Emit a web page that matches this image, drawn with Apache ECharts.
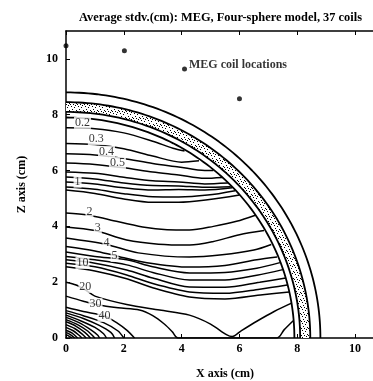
<!DOCTYPE html>
<html>
<head>
<meta charset="utf-8">
<script src="https://cdn.jsdelivr.net/npm/echarts@6/dist/echarts.min.js"></script>
<style>
  html, body { margin: 0; padding: 0; background: #fff; }
  #main { width: 373px; height: 381px; }
</style>
</head>
<body>
<div id="main"></div>
<script>
// 球壳半径 (cm): 脑, 脑脊液, 颅骨外, 头皮
var shellRadii = [7.9, 8.1, 8.45, 8.8];
// 颅骨层 (点状填充)
var skullBand = [8.1, 8.45];

// MEG 线圈位置
var coilX = [0, 2.02, 4.1, 6.0];
var coilZ = [10.47, 10.29, 9.64, 8.57];

// 等值线 (x, z)
var c02 = [[0,7.53],[1.0,7.5],[2.0,7.35],[3.0,7.05],[3.7,6.8],[4.1,6.7]];
var c03 = [[0,6.97],[1.0,6.93],[2.0,6.78],[3.0,6.52],[4.0,6.3],[4.6,6.35]];
var c04 = [[0,6.6],[1,6.56],[2,6.43],[3,6.25],[3.9,6.13],[4.8,6.0],[5.1,6.0]];
var c05 = [[0,6.27],[1,6.22],[2,6.1],[3,5.95],[3.9,5.84],[4.8,5.72],[5.4,5.75]];
var c06 = [[0,5.95],[1,5.9],[2,5.76],[3,5.63],[3.9,5.59],[4.8,5.52],[5.6,5.55]];
var c07 = [[0,5.77],[1,5.7],[2,5.55],[3,5.46],[3.9,5.45],[4.8,5.4],[5.7,5.42]];
var c08 = [[0,5.59],[1,5.52],[2,5.38],[3,5.3],[3.9,5.32],[4.8,5.3],[5.75,5.38]];
var c09 = [[0,5.41],[1,5.33],[2,5.17],[3,5.06],[3.9,5.05],[4.9,5.12],[5.85,5.28]];
var c1 = [[0,5.3],[1,5.18],[2,4.98],[3,4.86],[3.9,4.86],[4.9,4.95],[6.0,5.12]];
var c2 = [[0,4.48],[0.75,4.41],[1.5,4.24],[2.65,3.98],[3.5,3.88],[4.27,3.87],[5.1,4.0],[5.9,4.18],[6.55,4.4]];
var c3 = [[0,3.98],[1.0,3.85],[2.1,3.51],[3.2,3.36],[4.28,3.33],[5.07,3.45],[6.0,3.7],[6.85,3.85]];
var c4 = [[0,3.58],[1.4,3.35],[2.5,3.05],[4.27,2.9],[5.4,2.98],[6.5,3.15],[7.1,3.35]];
var c5 = [[0,3.28],[1.0,3.12],[1.7,2.95],[2.8,2.7],[4.27,2.54],[5.5,2.6],[6.6,2.8],[7.3,2.9]];
var c6 = [[0,3.08],[1,2.92],[2.1,2.8],[3,2.55],[4.27,2.33],[5.5,2.35],[6.6,2.5],[7.4,2.7]];
var c7 = [[0,2.92],[1,2.8],[2.1,2.62],[3,2.35],[4.27,2.08],[5.5,2.08],[6.6,2.25],[7.5,2.45]];
var c8 = [[0,2.8],[1,2.68],[2.1,2.44],[3,2.15],[4.27,1.83],[5.5,1.82],[6.7,2.0],[7.6,2.15]];
var c9 = [[0,2.68],[1,2.55],[2.1,2.26],[3,1.95],[4.27,1.65],[5.5,1.6],[6.7,1.75],[7.65,1.9]];
var c10 = [[0,2.55],[1,2.4],[2.1,2.12],[3,1.8],[4.27,1.47],[5.5,1.4],[6.8,1.55],[7.72,1.65]];
var c20 = [[0,2.0],[0.35,1.9],[0.68,1.72],[1.0,1.5],[2.1,1.2],[3.24,1.0],[4.27,0.82],[5.0,0.5],[5.55,0.12],[5.75,0.05],[6.05,0.25],[6.6,0.6],[7.2,0.95],[7.8,1.25]];
var c30 = [[0,1.5],[0.6,1.32],[1.05,1.2],[1.8,1.08],[2.54,1.0],[3.0,0.8],[3.4,0.5],[3.68,0.22],[3.87,0],[7.3,0],[7.55,0.3],[7.86,0.62]];
var c40 = [[0,1.1],[0.6,0.95],[1.33,0.79],[1.75,0.55],[2.1,0.28],[2.37,0]];
var c50 = [[0,0.98],[0.6,0.8],[1.3,0.55],[1.8,0.25],[2.0,0]];
var c60 = [[0,0.9],[0.6,0.7],[1.15,0.45],[1.55,0.2],[1.68,0]];
var c70 = [[0,0.82],[0.5,0.62],[1.0,0.38],[1.3,0.15],[1.4,0]];
var c80 = [[0,0.74],[0.45,0.55],[0.85,0.3],[1.1,0.1],[1.16,0]];
var c90 = [[0,0.66],[0.4,0.48],[0.75,0.25],[0.95,0.05],[1.0,0]];
var c100 = [[0,0.58],[0.35,0.42],[0.65,0.2],[0.85,0]];
var c200 = [[0,0.48],[0.3,0.34],[0.55,0.15],[0.7,0]];
var c300 = [[0,0.38],[0.25,0.26],[0.45,0.1],[0.55,0]];
var c400 = [[0,0.28],[0.2,0.18],[0.4,0]];
var c500 = [[0,0.2],[0.15,0.12],[0.3,0]];
var c600 = [[0,0.12],[0.1,0.07],[0.2,0]];
var contourLines = [c02, c03, c04, c05, c06, c07, c08, c09, c1, c2, c3, c4, c5,
  c6, c7, c8, c9, c10, c20, c30, c40, c50, c60, c70, c80, c90, c100, c200, c300, c400, c500, c600];

// 等值线标注
var labelText = ['0.2', '0.3', '0.4', '0.5', '1', '2', '3', '4', '5', '10', '20', '30', '40'];
var labelX = [0.57, 1.05, 1.4, 1.78, 0.4, 0.81, 1.1, 1.4, 1.68, 0.57, 0.67, 1.02, 1.33];
var labelZ = [7.71, 7.13, 6.67, 6.27, 5.6, 4.52, 3.94, 3.4, 2.94, 2.69, 1.83, 1.22, 0.79];

var serif = '"Liberation Serif", "DejaVu Serif", serif';

// 四分之一圆
function arc(r) {
  var pts = [];
  for (var a = 0; a <= 90; a += 1) {
    var t = a * Math.PI / 180;
    pts.push([r * Math.cos(t), r * Math.sin(t)]);
  }
  return pts;
}

// 颅骨层的点状纹理
var pc = document.createElement('canvas');
pc.width = 7; pc.height = 7;
var pctx = pc.getContext('2d');
pctx.fillStyle = '#fff';
pctx.fillRect(0, 0, 7, 7);
pctx.fillStyle = '#000';
[[1,1],[4,2],[2,4],[6,5],[5,0],[0,6],[3,6]].forEach(function (p) { pctx.fillRect(p[0], p[1], 1, 1); });
var stipple = { image: pc, repeat: 'repeat' };

var chart = echarts.init(document.getElementById('main'));

var series = [];

series.push({
  type: 'custom',
  data: [skullBand],
  clip: true,
  z: 1,
  renderItem: function (params, api) {
    var rIn = api.value(0), rOut = api.value(1);
    var pts = [], a, t;
    for (a = 0; a <= 90; a += 1) {
      t = a * Math.PI / 180;
      pts.push(api.coord([rOut * Math.cos(t), rOut * Math.sin(t)]));
    }
    for (a = 90; a >= 0; a -= 1) {
      t = a * Math.PI / 180;
      pts.push(api.coord([rIn * Math.cos(t), rIn * Math.sin(t)]));
    }
    return { type: 'polygon', shape: { points: pts }, style: { fill: stipple, stroke: null } };
  }
});

shellRadii.forEach(function (r) {
  series.push({
    type: 'line', data: arc(r), symbol: 'none', z: 3,
    lineStyle: { color: '#000', width: 1.8 }
  });
});

contourLines.forEach(function (d) {
  series.push({
    type: 'line', data: d, symbol: 'none', smooth: 0.3, z: 2,
    lineStyle: { color: '#000', width: 1.5 }
  });
});

series.push({
  type: 'scatter',
  data: labelX.map(function (x, i) { return [x, labelZ[i], labelText[i]]; }),
  symbolSize: 1,
  itemStyle: { color: 'rgba(0,0,0,0)' },
  z: 5,
  label: {
    show: true, position: 'inside',
    formatter: function (p) { return p.value[2]; },
    fontFamily: serif, fontSize: 12, color: '#000',
    backgroundColor: '#fff', padding: [0, 1]
  }
});

series.push({
  type: 'scatter',
  data: coilX.map(function (x, i) { return [x, coilZ[i]]; }),
  symbolSize: 5,
  itemStyle: { color: '#000' },
  z: 6,
  clip: false,
  label: {
    show: true, position: 'right', distance: 2,
    formatter: function (p) { return p.dataIndex === 2 ? 'MEG coil locations' : ''; },
    fontFamily: serif, fontWeight: 'bold', fontSize: 12, color: '#000', offset: [0, -4]
  }
});

var option = {
  animation: false,
  backgroundColor: '#fff',
  title: {
    text: 'Average stdv.(cm): MEG, Four-sphere model, 37 coils',
    left: 74, top: 7,
    textStyle: { fontFamily: serif, fontWeight: 'bold', fontSize: 12.4, color: '#000' }
  },
  grid: { left: 66, top: 31, width: 318, height: 307, containLabel: false, outerBoundsMode: 'none' },
  xAxis: [{
    type: 'value', min: 0, max: 11, interval: 2,
    name: 'X axis (cm)', nameLocation: 'middle', nameGap: 30,
    nameTextStyle: { fontFamily: serif, fontWeight: 'bold', fontSize: 12, color: '#000' },
    axisLine: { lineStyle: { color: '#000', width: 1.5 } },
    axisTick: { inside: true, length: 4, lineStyle: { color: '#000' } },
    axisLabel: { fontFamily: serif, fontWeight: 'bold', fontSize: 12, color: '#000', margin: 5, showMaxLabel: false },
    splitLine: { show: false }
  }, {
    type: 'value', position: 'top', min: 0, max: 11, interval: 2,
    axisLine: { lineStyle: { color: '#000', width: 1.5 } },
    axisTick: { inside: true, length: 4, lineStyle: { color: '#000' } },
    axisLabel: { show: false },
    splitLine: { show: false }
  }],
  yAxis: {
    type: 'value', min: 0, max: 11, interval: 2,
    name: 'Z axis (cm)', nameLocation: 'middle', nameGap: 38,
    nameTextStyle: { fontFamily: serif, fontWeight: 'bold', fontSize: 12, color: '#000' },
    axisLine: { lineStyle: { color: '#000', width: 1.5 } },
    axisTick: { inside: true, length: 4, lineStyle: { color: '#000' } },
    axisLabel: { fontFamily: serif, fontWeight: 'bold', fontSize: 12, color: '#000', margin: 8, showMaxLabel: false },
    splitLine: { show: false }
  },
  series: series
};

chart.setOption(option);
</script>
</body>
</html>
